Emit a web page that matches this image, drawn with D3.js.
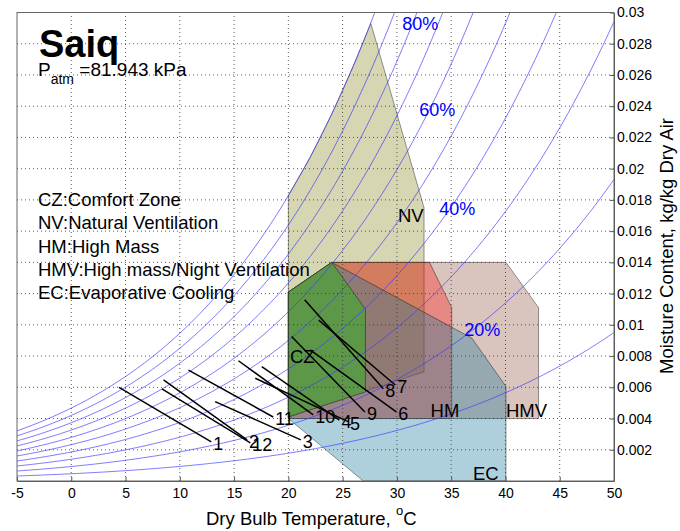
<!DOCTYPE html>
<html>
<head>
<meta charset="utf-8">
<script src="https://cdn.jsdelivr.net/npm/d3@7"></script>
<style>
  body { margin: 0; background: #fff; }
  svg text { font-family: "Liberation Sans", Arial, sans-serif; }
</style>
</head>
<body>
<div id="chart"></div>
<script>
// site
const siteName = "Saiq";
const pAtm = 81.943;

// axes
const xTicks = [-5, 0, 5, 10, 15, 20, 25, 30, 35, 40, 45, 50];
const yTicks = [0.002, 0.004, 0.006, 0.008, 0.01, 0.012, 0.014, 0.016, 0.018, 0.02, 0.022, 0.024, 0.026, 0.028, 0.03];

// relative humidity curves + labels
const rhLevels = [0.1, 0.2, 0.3, 0.4, 0.5, 0.6, 0.7, 0.8, 0.9, 1.0];
const rhLabelText = ["20%", "40%", "60%", "80%"];
const rhLabelT = [36.2, 33.9, 32.05, 30.5];
const rhLabelW = [0.0093, 0.01705, 0.02335, 0.0289];

// design strategy zones [T, W]
const zoneHMV = [[20, 0.0041], [20, 0.0121], [24, 0.014], [40.05, 0.014], [43.05, 0.0111], [43.05, 0.004], [20, 0.004]];
const zoneNV = [[20, 0.0041], [20, 0.0183], [22, 0.0207], [24, 0.0235], [26, 0.0266], [27.6, 0.0293], [32.5, 0.0175], [32.5, 0.0070]];
const zoneHM = [[20, 0.0041], [20, 0.0121], [24, 0.014], [33.0, 0.014], [35.05, 0.0111], [35.05, 0.004], [20, 0.004]];
const zoneEC = [[20, 0.004], [20, 0.0121], [24, 0.014], [36.9, 0.00915], [40.05, 0.00605], [40.05, 0], [26.9, 0]];
const zoneCZ = [[20, 0.0041], [20, 0.0121], [24, 0.014], [27.1, 0.011], [27.1, 0.0057]];

const zoneLabels = ["CZ", "NV", "HM", "HMV", "EC"];
const zoneLabelT = [20.15, 30.1, 33.1, 40.05, 37.0];
const zoneLabelW = [0.00756, 0.0166, 0.0041, 0.0041, 0.00006];

const legendLines = ["CZ:Comfort Zone", "NV:Natural Ventilation", "HM:High Mass",
  "HMV:High mass/Night Ventilation", "EC:Evaporative Cooling"];

// monthly lines: (Tmin, W at Tmin) -> (Tmax, W at Tmax)
const months = [1, 2, 3, 4, 5, 6, 7, 8, 9, 10, 11, 12];
const tMin = [4.4, 8.5, 13.25, 17.55, 16.95, 22.0, 22.8, 21.5, 20.3, 15.4, 10.8, 8.35];
const wAtMin = [0.0060, 0.00647, 0.00508, 0.00733, 0.00658, 0.0084, 0.0103, 0.0116, 0.00925, 0.0077, 0.0071, 0.0059];
const tMax = [12.9, 16.2, 21.15, 24.7, 25.5, 29.95, 29.85, 28.75, 27.05, 22.3, 18.6, 16.5];
const wAtMax = [0.0025, 0.00263, 0.00263, 0.0039, 0.0038, 0.00442, 0.00615, 0.0059, 0.00442, 0.00423, 0.0041, 0.00244];

const W = 680, H = 531;
const x = d3.scaleLinear().domain([-5, 50]).range([17, 614]);
const y = d3.scaleLinear().domain([0, 0.03]).range([481, 12.5]);

const svg = d3.select("#chart").append("svg")
  .attr("width", W)
  .attr("height", H);

svg.append("clipPath").attr("id", "plotClip")
  .append("rect")
    .attr("x", x(-5)).attr("y", y(0.03))
    .attr("width", x(50) - x(-5)).attr("height", y(0) - y(0.03));

const plot = svg.append("g").attr("clip-path", "url(#plotClip)");

// zones, drawn in overlay order
const zoneLine = d3.line().x(d => x(d[0])).y(d => y(d[1]));
const zones = [
  { pts: zoneHMV, fill: "rgb(149,86,69)", op: 0.35 },
  { pts: zoneNV, fill: "rgb(138,138,35)", op: 0.35 },
  { pts: zoneHM, fill: "rgb(255,30,24)", op: 0.35 },
  { pts: zoneEC, fill: "rgb(24,121,155)", op: 0.35 },
  { pts: zoneCZ, fill: "rgb(92,152,72)", op: 1 }
];
plot.selectAll(".zone")
  .data(zones)
  .enter().append("path")
    .attr("class", "zone")
    .attr("d", d => zoneLine(d.pts) + "Z")
    .attr("fill", d => d.fill)
    .attr("fill-opacity", d => d.op)
    .attr("stroke", "#000")
    .attr("stroke-opacity", 0.4)
    .attr("stroke-width", 1);

// dotted grid
plot.selectAll(".vgrid")
  .data(xTicks.slice(1, -1))
  .enter().append("line")
    .attr("x1", d => x(d)).attr("x2", d => x(d))
    .attr("y1", y(0)).attr("y2", y(0.03))
    .attr("stroke", "#333").attr("stroke-width", 0.8)
    .attr("stroke-dasharray", "1,3");
plot.selectAll(".hgrid")
  .data(yTicks.slice(0, -1))
  .enter().append("line")
    .attr("x1", x(-5)).attr("x2", x(50))
    .attr("y1", d => y(d)).attr("y2", d => y(d))
    .attr("stroke", "#333").attr("stroke-width", 0.8)
    .attr("stroke-dasharray", "1,3");

// saturation pressure (kPa) and humidity ratio
const pSat = t => 0.61078 * Math.exp(17.27 * t / (t + 237.3));
const humRatio = (t, phi) => 0.622 * phi * pSat(t) / (pAtm - phi * pSat(t));
const temps = d3.range(-5, 50.01, 0.25);

const rhLine = d3.line().x(d => x(d[0])).y(d => y(d[1]));
plot.selectAll(".rh")
  .data(rhLevels)
  .enter().append("path")
    .attr("class", "rh")
    .attr("d", phi => rhLine(temps.map(t => [t, humRatio(t, phi)])))
    .attr("fill", "none")
    .attr("stroke", "#3a3aff")
    .attr("stroke-opacity", 0.75)
    .attr("stroke-width", 0.9);

// monthly lines
svg.selectAll(".month")
  .data(months)
  .enter().append("line")
    .attr("x1", (d, i) => x(tMin[i]))
    .attr("y1", (d, i) => y(wAtMin[i]))
    .attr("x2", (d, i) => x(tMax[i]))
    .attr("y2", (d, i) => y(wAtMax[i]))
    .attr("stroke", "#000")
    .attr("stroke-width", 1.5);

svg.selectAll(".monthLabel")
  .data(months)
  .enter().append("text")
    .attr("x", (d, i) => x(tMax[i]) + 2)
    .attr("y", (d, i) => y(wAtMax[i]) + 8)
    .attr("font-size", 18)
    .attr("fill", "#000")
    .text(d => d);

// RH labels
svg.selectAll(".rhLabel")
  .data(rhLabelText)
  .enter().append("text")
    .attr("x", (d, i) => x(rhLabelT[i]))
    .attr("y", (d, i) => y(rhLabelW[i]))
    .attr("font-size", 18)
    .attr("fill", "#0000ff")
    .text(d => d);

// zone labels
svg.selectAll(".zoneLabel")
  .data(zoneLabels)
  .enter().append("text")
    .attr("x", (d, i) => x(zoneLabelT[i]))
    .attr("y", (d, i) => y(zoneLabelW[i]))
    .attr("font-size", 18.5)
    .attr("fill", "#000")
    .text(d => d);

// axes
svg.append("g")
  .attr("transform", `translate(0, ${y(0)})`)
  .call(d3.axisBottom(x).tickValues(xTicks).tickSizeInner(-4).tickSizeOuter(0)
    .tickPadding(7).tickFormat(d => String(d)))
  .call(g => g.selectAll("text").attr("font-size", 14).attr("fill", "#000")
    .style("font-family", '"Liberation Sans", Arial, sans-serif'))
  .call(g => g.selectAll("line, path").attr("stroke", "#555"));

svg.append("g")
  .attr("transform", `translate(${x(50)}, 0)`)
  .call(d3.axisRight(y).tickValues(yTicks).tickSizeInner(-4).tickSizeOuter(0)
    .tickPadding(3).tickFormat(d => String(+d.toFixed(3))))
  .call(g => g.selectAll("text").attr("font-size", 14).attr("fill", "#000")
    .style("font-family", '"Liberation Sans", Arial, sans-serif'))
  .call(g => g.selectAll("line, path").attr("stroke", "#555"));

svg.append("rect")
  .attr("x", x(-5)).attr("y", y(0.03))
  .attr("width", x(50) - x(-5)).attr("height", y(0) - y(0.03))
  .attr("fill", "none")
  .attr("stroke", "#666")
  .attr("stroke-width", 1);

// axis titles
const xt = svg.append("text")
  .attr("x", 206)
  .attr("y", 525)
  .attr("font-size", 18.5)
  .attr("fill", "#000");
xt.append("tspan").text("Dry Bulb Temperature, ");
xt.append("tspan").attr("dy", -10).attr("font-size", 13).text("o");
xt.append("tspan").attr("dy", 10).text("C");

svg.append("text")
  .attr("transform", `translate(673, 246) rotate(-90)`)
  .style("text-anchor", "middle")
  .attr("font-size", 18.5)
  .attr("fill", "#000")
  .text("Moisture Content, kg/kg Dry Air");

// site title and pressure
svg.append("text")
  .attr("x", 39)
  .attr("y", 57)
  .attr("font-size", 38)
  .attr("font-weight", "bold")
  .attr("fill", "#000")
  .text(siteName);

const pt = svg.append("text")
  .attr("x", 38)
  .attr("y", 76)
  .attr("font-size", 19)
  .attr("fill", "#000");
pt.append("tspan").text("P");
pt.append("tspan").attr("dy", 8).attr("font-size", 14).text("atm");
pt.append("tspan").attr("dy", -8).text(" =" + pAtm + " kPa");

// legend
svg.selectAll(".legend")
  .data(legendLines)
  .enter().append("text")
    .attr("x", 38)
    .attr("y", (d, i) => 206 + i * 23.3)
    .attr("font-size", 18.5)
    .attr("fill", "#000")
    .text(d => d);
</script>
</body>
</html>
